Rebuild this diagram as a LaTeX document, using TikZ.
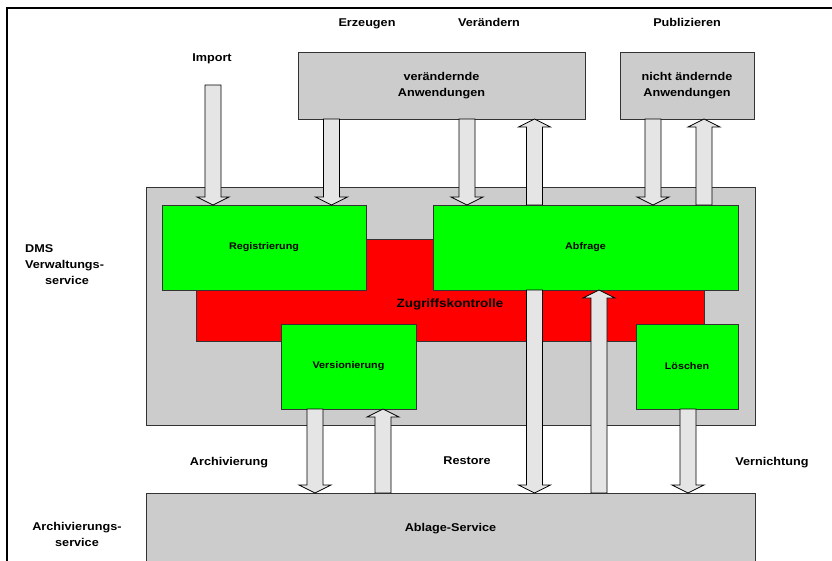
\documentclass[tikz,border=0pt]{standalone}
\usepackage{fontspec}
\setmainfont{Liberation Sans}[FakeStretch=1.12]
\usetikzlibrary{calc}
\newcommand\lblfont{\fontsize{11.3}{16}\selectfont\bfseries}
\newcommand\grnfont{\fontsize{9.6}{12}\selectfont\bfseries}
\newcommand\bigfont{\fontsize{12}{14}\selectfont\bfseries}
\tikzset{
  box/.style={anchor=north west, inner sep=0pt, outer sep=0pt, line width=1pt, draw=black!80, align=center},
  graybox/.style={box, fill=black!20},
  greenbox/.style={box, fill=green, font=\grnfont},
  redbox/.style={box, fill=red},
  lbl/.style={inner sep=0pt, font=\lblfont, align=center},
  fat/.style={draw=black, fill=black!10, line width=0.8pt, line join=miter},
  fatdown/.style={fat, to path={let \p1=(\tikztostart), \p2=(\tikztotarget) in
    (\x1-8pt,\y1) -- (\x1-8pt,\y2+8pt) -- (\x1-16pt,\y2+8pt) -- (\x1,\y2) -- (\x1+16pt,\y2+8pt) -- (\x1+8pt,\y2+8pt) -- (\x1+8pt,\y1) -- cycle}},
  fatup/.style={fat, to path={let \p1=(\tikztostart), \p2=(\tikztotarget) in
    (\x1-8pt,\y1) -- (\x1-8pt,\y2-8pt) -- (\x1-16pt,\y2-8pt) -- (\x1,\y2) -- (\x1+16pt,\y2-8pt) -- (\x1+8pt,\y2-8pt) -- (\x1+8pt,\y1) -- cycle}},
}
\begin{document}
\begin{tikzpicture}[x=1pt,y=-1pt]
\useasboundingbox (0,0) rectangle (832,560);
\clip (0,0) rectangle (832,560);
\fill[white] (0,0) rectangle (832,560);
% frame
\draw[line width=2pt] (7,600) -- (7,7.5) -- (900,7.5);

% top labels
\node[lbl] (erz) at (367,23.5) {Erzeugen};
\node[lbl] (vera) at (489,22) {Verändern};
\node[lbl] (pub) at (687,22) {Publizieren};
\node[lbl] (imptxt) at (212,58.5) {Import};

% application boxes
\node[graybox, font=\lblfont, minimum width=287pt, minimum height=67pt] (app1) at (298,52) {verändernde\\Anwendungen};
\node[graybox, font=\lblfont, minimum width=134pt, minimum height=67pt] (app2) at (620,52) {nicht ändernde\\Anwendungen};

% DMS
\node[graybox, minimum width=609pt, minimum height=238pt] (dms) at (146,187) {};
\node[redbox, minimum width=508pt, minimum height=102pt] (red) at (196,239) {};
\node[inner sep=0pt, font=\bigfont] (zk) at (450,304) {Zugriffskontrolle};
\node[greenbox, minimum width=204pt, minimum height=85pt] (reg) at (162,205) {Registrierung};
\node[greenbox, minimum width=305pt, minimum height=85pt] (abf) at (433,205) {Abfrage};
\node[greenbox, minimum width=135pt, minimum height=85pt] (ver) at (281,324) {Versionierung};
\node[greenbox, minimum width=102pt, minimum height=85pt] (loe) at (636,324) {Löschen};

% Ablage
\node[graybox, font=\lblfont, minimum width=609pt, minimum height=71pt] (abl) at (146,493) {Ablage-Service};

% side labels
\node[lbl, anchor=west, align=left] (dmslbl) at (25,265) {DMS\\Verwaltungs-\\\hspace*{20pt}service};
\node[lbl] (arclbl) at (77,534) {Archivierungs-\\service};

% bottom labels
\node[lbl] (archtxt) at (229,462.5) {Archivierung};
\node[lbl] (restxt) at (467,461) {Restore};
\node[lbl] (verntxt) at (772,462.5) {Vernichtung};

% arrow x positions
\coordinate (imp) at (213,85);
\coordinate (xE) at (331.5,0);
\coordinate (xV) at (467,0);
\coordinate (xR) at (534.5,0);
\coordinate (xQ) at (599,0);
\coordinate (xP) at (653,0);
\coordinate (xU) at (704,0);
\coordinate (xA) at (315,0);
\coordinate (xB) at (383,0);
\coordinate (xL) at (688,0);

% arrows
\draw[fatdown] (imp) to (reg.north -| imp);
\draw[fatdown] (app1.south -| xE) to (reg.north -| xE);
\draw[fatdown] (app1.south -| xV) to (abf.north -| xV);
\draw[fatup] (abf.north -| xR) to (app1.south -| xR);
\draw[fatdown] (abf.south -| xR) to (abl.north -| xR);
\draw[fatup] (abl.north -| xQ) to (abf.south -| xQ);
\draw[fatdown] (app2.south -| xP) to (abf.north -| xP);
\draw[fatup] (abf.north -| xU) to (app2.south -| xU);
\draw[fatdown] (ver.south -| xA) to (abl.north -| xA);
\draw[fatup] (abl.north -| xB) to (ver.south -| xB);
\draw[fatdown] (loe.south -| xL) to (abl.north -| xL);
\end{tikzpicture}
\end{document}
